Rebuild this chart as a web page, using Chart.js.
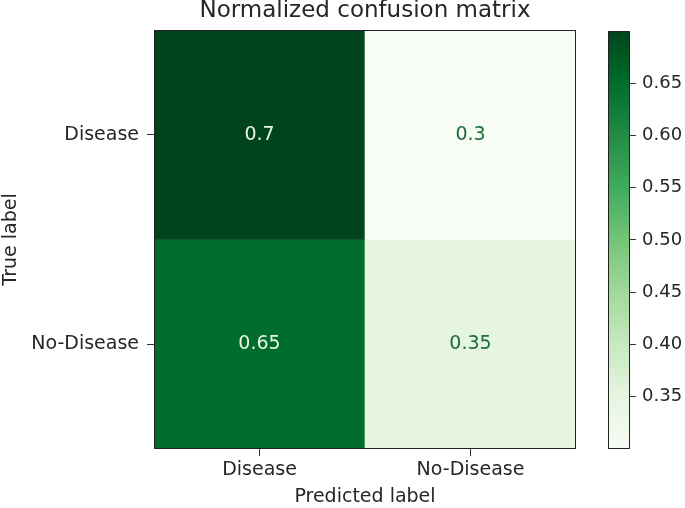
<!DOCTYPE html>
<html>
<head>
<meta charset="utf-8">
<title>Normalized confusion matrix</title>
<script src="https://cdn.jsdelivr.net/npm/chart.js@4.4.0/dist/chart.umd.min.js"></script>
<style>
  body { margin: 0; background: #fff; }
  #wrap { position: relative; width: 685px; height: 508px; }
  #matrixChart { position: absolute; left: 0; top: 0; }
  #barChart { position: absolute; left: 590px; top: 0; }
</style>
</head>
<body>
<div id="wrap">
  <canvas id="matrixChart" width="600" height="508"></canvas>
  <canvas id="barChart" width="95" height="508"></canvas>
</div>
<script>
const predictedLabels = ["Disease", "No-Disease"];
const trueLabels = ["Disease", "No-Disease"];
// one array per true label, values per predicted label
const rowDisease = [0.7, 0.3];
const rowNoDisease = [0.65, 0.35];
const colorbarRange = [0.3, 0.7];
const colorbarTicks = [0.35, 0.40, 0.45, 0.50, 0.55, 0.60, 0.65];

const rows = [rowDisease, rowNoDisease];
const FONT = "'DejaVu Sans', sans-serif";
const INK = "#262626";

// Greens colormap anchors
const greens = ["#f7fcf5", "#e5f5e0", "#c7e9c0", "#a1d99b", "#74c476", "#41ab5d", "#238b45", "#006d2c", "#00441b"];

function hexToRgb(h) {
  const n = parseInt(h.slice(1), 16);
  return [(n >> 16) & 255, (n >> 8) & 255, n & 255];
}

function greenAt(v) {
  let t = (v - colorbarRange[0]) / (colorbarRange[1] - colorbarRange[0]);
  t = Math.max(0, Math.min(1, t));
  const pos = t * (greens.length - 1);
  const i = Math.min(Math.floor(pos), greens.length - 2);
  const f = pos - i;
  const a = hexToRgb(greens[i]), b = hexToRgb(greens[i + 1]);
  const c = a.map((x, k) => Math.round(x + (b[k] - x) * f));
  return `rgb(${c[0]},${c[1]},${c[2]})`;
}

// frame round the plot area (matplotlib spines)
const frame = {
  id: "frame",
  afterDraw(chart) {
    const { ctx, chartArea: a } = chart;
    ctx.save();
    ctx.strokeStyle = "#222";
    ctx.lineWidth = 1;
    ctx.strokeRect(Math.round(a.left) + 0.5, Math.round(a.top) + 0.5,
      Math.round(a.right - a.left) - 1, Math.round(a.bottom - a.top) - 1);
    ctx.restore();
  }
};

// value written in each cell
const cellText = {
  id: "cellText",
  afterDatasetsDraw(chart) {
    const ctx = chart.ctx;
    const mid = (colorbarRange[0] + colorbarRange[1]) / 2;
    ctx.save();
    ctx.font = "19px " + FONT;
    ctx.textAlign = "center";
    ctx.textBaseline = "middle";
    chart.data.datasets.forEach((ds, di) => {
      chart.getDatasetMeta(di).data.forEach((bar, j) => {
        const v = ds.values[j];
        const c = bar.getCenterPoint();
        ctx.fillStyle = v > mid ? "#e6f4e2" : "#1f6d3a";
        ctx.fillText(String(v), c.x, c.y);
      });
    });
    ctx.restore();
  }
};

new Chart(document.getElementById("matrixChart").getContext("2d"), {
  type: "bar",
  data: {
    labels: predictedLabels,
    datasets: rows.map((row, i) => ({
      label: trueLabels[i],
      values: row,
      data: row.map(() => [rows.length - 1 - i, rows.length - i]),
      backgroundColor: row.map(greenAt),
      borderWidth: 0,
      grouped: false,
      barPercentage: 1,
      categoryPercentage: 1
    }))
  },
  options: {
    responsive: false,
    animation: false,
    layout: { padding: { left: 0, right: 24, top: 0, bottom: 0 } },
    plugins: {
      legend: { display: false },
      tooltip: { enabled: false },
      title: {
        display: true,
        text: "Normalized confusion matrix",
        fullSize: false,
        color: INK,
        font: { family: FONT, size: 23, weight: "normal", lineHeight: 1 },
        padding: { top: 0, bottom: 7 }
      }
    },
    scales: {
      x: {
        type: "category",
        offset: true,
        grid: { offset: false, drawOnChartArea: false, tickLength: 7, tickColor: "#333" },
        border: { display: false },
        ticks: { color: INK, font: { family: FONT, size: 19 }, padding: 3, maxRotation: 0 },
        title: { display: true, text: "Predicted label", color: INK, font: { family: FONT, size: 19 }, padding: 0 },
        afterFit: s => { s.height = 59; }
      },
      y: {
        min: 0,
        max: rows.length,
        afterBuildTicks: s => { s.ticks = rows.map((r, i) => ({ value: i + 0.5 })); },
        grid: { drawOnChartArea: false, tickLength: 7, tickColor: "#333" },
        border: { display: false },
        ticks: {
          color: INK,
          font: { family: FONT, size: 19 },
          padding: 8,
          callback: v => trueLabels[Math.round(rows.length - 0.5 - v)]
        },
        title: { display: true, text: "True label", color: INK, font: { family: FONT, size: 19 }, padding: 0 },
        afterFit: s => { s.width = 154; }
      }
    }
  },
  plugins: [cellText, frame]
});

// colorbar
new Chart(document.getElementById("barChart").getContext("2d"), {
  type: "bar",
  data: {
    labels: [""],
    datasets: [{
      data: [colorbarRange],
      borderWidth: 0,
      barPercentage: 1,
      categoryPercentage: 1,
      backgroundColor: ctx => {
        const a = ctx.chart.chartArea;
        if (!a) return greens[4];
        const g = ctx.chart.ctx.createLinearGradient(0, a.bottom, 0, a.top);
        greens.forEach((c, i) => g.addColorStop(i / (greens.length - 1), c));
        return g;
      }
    }]
  },
  options: {
    responsive: false,
    animation: false,
    layout: { padding: { left: 18, right: 0, top: 31, bottom: 59 } },
    plugins: { legend: { display: false }, tooltip: { enabled: false } },
    scales: {
      x: { display: false },
      y: {
        position: "right",
        min: colorbarRange[0],
        max: colorbarRange[1],
        afterBuildTicks: s => { s.ticks = colorbarTicks.map(v => ({ value: v })); },
        grid: { drawOnChartArea: false, tickLength: 6, tickColor: "#333" },
        border: { display: false },
        ticks: { color: INK, font: { family: FONT, size: 18 }, padding: 6, callback: v => v.toFixed(2) },
        afterFit: s => { s.width = 55; }
      }
    }
  },
  plugins: [frame]
});
</script>
</body>
</html>
